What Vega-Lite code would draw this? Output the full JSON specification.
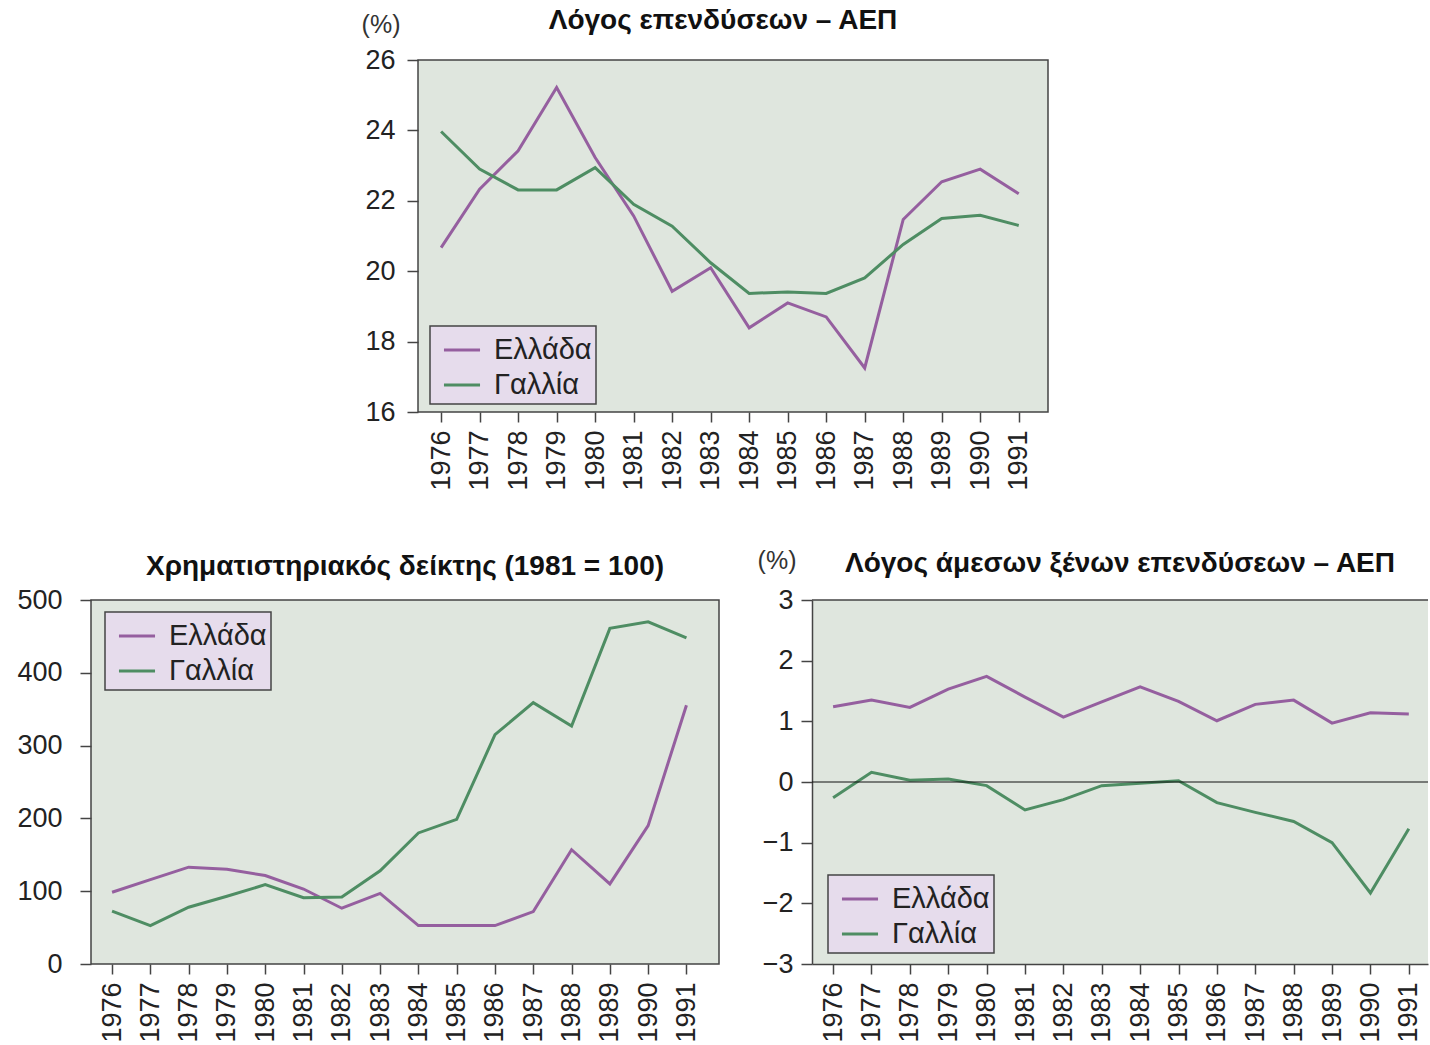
{
  "$schema": "https://vega.github.io/schema/vega-lite/v6.json",
  "background": "white",
  "padding": {"left": 16, "top": 6, "right": 0, "bottom": 0},
  "datasets": {
    "invest": [
      {"year": 1976, "country": "Ελλάδα", "value": 20.67}, {"year": 1977, "country": "Ελλάδα", "value": 22.33},
      {"year": 1978, "country": "Ελλάδα", "value": 23.42}, {"year": 1979, "country": "Ελλάδα", "value": 25.22},
      {"year": 1980, "country": "Ελλάδα", "value": 23.23}, {"year": 1981, "country": "Ελλάδα", "value": 21.57},
      {"year": 1982, "country": "Ελλάδα", "value": 19.43}, {"year": 1983, "country": "Ελλάδα", "value": 20.1},
      {"year": 1984, "country": "Ελλάδα", "value": 18.39}, {"year": 1985, "country": "Ελλάδα", "value": 19.1},
      {"year": 1986, "country": "Ελλάδα", "value": 18.7}, {"year": 1987, "country": "Ελλάδα", "value": 17.25},
      {"year": 1988, "country": "Ελλάδα", "value": 21.47}, {"year": 1989, "country": "Ελλάδα", "value": 22.54},
      {"year": 1990, "country": "Ελλάδα", "value": 22.9}, {"year": 1991, "country": "Ελλάδα", "value": 22.2},
      {"year": 1976, "country": "Γαλλία", "value": 23.97}, {"year": 1977, "country": "Γαλλία", "value": 22.9},
      {"year": 1978, "country": "Γαλλία", "value": 22.31}, {"year": 1979, "country": "Γαλλία", "value": 22.31},
      {"year": 1980, "country": "Γαλλία", "value": 22.94}, {"year": 1981, "country": "Γαλλία", "value": 21.9},
      {"year": 1982, "country": "Γαλλία", "value": 21.28}, {"year": 1983, "country": "Γαλλία", "value": 20.24},
      {"year": 1984, "country": "Γαλλία", "value": 19.37}, {"year": 1985, "country": "Γαλλία", "value": 19.41},
      {"year": 1986, "country": "Γαλλία", "value": 19.37}, {"year": 1987, "country": "Γαλλία", "value": 19.81},
      {"year": 1988, "country": "Γαλλία", "value": 20.76}, {"year": 1989, "country": "Γαλλία", "value": 21.5},
      {"year": 1990, "country": "Γαλλία", "value": 21.59}, {"year": 1991, "country": "Γαλλία", "value": 21.3}
    ],
    "stock": [
      {"year": 1976, "country": "Ελλάδα", "value": 98.6}, {"year": 1977, "country": "Ελλάδα", "value": 116},
      {"year": 1978, "country": "Ελλάδα", "value": 133}, {"year": 1979, "country": "Ελλάδα", "value": 130},
      {"year": 1980, "country": "Ελλάδα", "value": 121.6}, {"year": 1981, "country": "Ελλάδα", "value": 103},
      {"year": 1982, "country": "Ελλάδα", "value": 76.6}, {"year": 1983, "country": "Ελλάδα", "value": 97},
      {"year": 1984, "country": "Ελλάδα", "value": 52.8}, {"year": 1985, "country": "Ελλάδα", "value": 52.8},
      {"year": 1986, "country": "Ελλάδα", "value": 52.8}, {"year": 1987, "country": "Ελλάδα", "value": 72},
      {"year": 1988, "country": "Ελλάδα", "value": 157}, {"year": 1989, "country": "Ελλάδα", "value": 110},
      {"year": 1990, "country": "Ελλάδα", "value": 190}, {"year": 1991, "country": "Ελλάδα", "value": 355.5},
      {"year": 1976, "country": "Γαλλία", "value": 72.5}, {"year": 1977, "country": "Γαλλία", "value": 52.8},
      {"year": 1978, "country": "Γαλλία", "value": 78}, {"year": 1979, "country": "Γαλλία", "value": 93},
      {"year": 1980, "country": "Γαλλία", "value": 109}, {"year": 1981, "country": "Γαλλία", "value": 91},
      {"year": 1982, "country": "Γαλλία", "value": 92}, {"year": 1983, "country": "Γαλλία", "value": 128},
      {"year": 1984, "country": "Γαλλία", "value": 180}, {"year": 1985, "country": "Γαλλία", "value": 198.6},
      {"year": 1986, "country": "Γαλλία", "value": 315}, {"year": 1987, "country": "Γαλλία", "value": 359},
      {"year": 1988, "country": "Γαλλία", "value": 327}, {"year": 1989, "country": "Γαλλία", "value": 461},
      {"year": 1990, "country": "Γαλλία", "value": 470}, {"year": 1991, "country": "Γαλλία", "value": 448}
    ],
    "fdi": [
      {"year": 1976, "country": "Ελλάδα", "value": 1.24}, {"year": 1977, "country": "Ελλάδα", "value": 1.35},
      {"year": 1978, "country": "Ελλάδα", "value": 1.23}, {"year": 1979, "country": "Ελλάδα", "value": 1.53},
      {"year": 1980, "country": "Ελλάδα", "value": 1.74}, {"year": 1981, "country": "Ελλάδα", "value": 1.4},
      {"year": 1982, "country": "Ελλάδα", "value": 1.07}, {"year": 1983, "country": "Ελλάδα", "value": 1.32},
      {"year": 1984, "country": "Ελλάδα", "value": 1.57}, {"year": 1985, "country": "Ελλάδα", "value": 1.33},
      {"year": 1986, "country": "Ελλάδα", "value": 1.01}, {"year": 1987, "country": "Ελλάδα", "value": 1.28},
      {"year": 1988, "country": "Ελλάδα", "value": 1.35}, {"year": 1989, "country": "Ελλάδα", "value": 0.97},
      {"year": 1990, "country": "Ελλάδα", "value": 1.14}, {"year": 1991, "country": "Ελλάδα", "value": 1.12},
      {"year": 1976, "country": "Γαλλία", "value": -0.26}, {"year": 1977, "country": "Γαλλία", "value": 0.16},
      {"year": 1978, "country": "Γαλλία", "value": 0.03}, {"year": 1979, "country": "Γαλλία", "value": 0.05},
      {"year": 1980, "country": "Γαλλία", "value": -0.06}, {"year": 1981, "country": "Γαλλία", "value": -0.46},
      {"year": 1982, "country": "Γαλλία", "value": -0.29}, {"year": 1983, "country": "Γαλλία", "value": -0.06},
      {"year": 1984, "country": "Γαλλία", "value": -0.02}, {"year": 1985, "country": "Γαλλία", "value": 0.02},
      {"year": 1986, "country": "Γαλλία", "value": -0.34}, {"year": 1987, "country": "Γαλλία", "value": -0.5},
      {"year": 1988, "country": "Γαλλία", "value": -0.65}, {"year": 1989, "country": "Γαλλία", "value": -1.0},
      {"year": 1990, "country": "Γαλλία", "value": -1.83}, {"year": 1991, "country": "Γαλλία", "value": -0.77}
    ]
  },
  "config": {
    "font": "Liberation Sans",
    "view": {"fill": "#dfe6de", "stroke": "#444444", "strokeWidth": 1.5},
    "axis": {
      "domain": false, "grid": false, "ticks": true,
      "tickColor": "#444444", "tickWidth": 1.5, "tickSize": 11,
      "labelColor": "#222222", "labelFont": "Liberation Sans", "labelFontSize": 27,
      "titleFont": "Liberation Sans", "titleFontSize": 25, "titleFontWeight": "normal", "titleColor": "#333333"
    },
    "axisX": {"labelAngle": -90, "labelPadding": 8, "tickSize": 10, "labelFontSize": 27},
    "title": {"font": "Liberation Sans", "fontSize": 28, "fontWeight": "bold", "color": "#111111"},
    "legend": {
      "orient": "none", "title": null,
      "fillColor": "#e6dcec", "strokeColor": "#444444", "strokeWidth": 1.5,
      "padding": 4, "symbolType": "stroke", "symbolSize": 1300, "symbolStrokeWidth": 3,
      "symbolOffset": 8, "labelFontSize": 29, "labelColor": "#222222", "labelOffset": 12,
      "rowPadding": -2, "labelFont": "Liberation Sans"
    }
  },
  "resolve": {"scale": {"color": "independent"}},
  "bounds": "flush",
  "spacing": 540,
  "vconcat": [
    {
      "bounds": "flush",
      "spacing": 10,
      "resolve": {"scale": {"color": "independent"}},
      "hconcat": [
        {
          "width": 317, "height": 352,
          "view": {"stroke": null, "fill": null},
          "data": {"values": []},
          "mark": "point",
          "encoding": {}
        },
        {
          "width": 630, "height": 352,
          "data": {"name": "invest"},
          "title": {"text": "Λόγος επενδύσεων –  ΑΕΠ", "dx": -10, "offset": -18, "dy": 27, "baseline": "alphabetic"},
          "mark": {"type": "line", "strokeWidth": 3},
          "encoding": {
            "x": {"field": "year", "type": "quantitative",
                  "scale": {"domain": [1975.4, 1991.76], "nice": false, "zero": false},
                  "axis": {"values": [1976,1977,1978,1979,1980,1981,1982,1983,1984,1985,1986,1987,1988,1989,1990,1991], "format": "d", "title": null}},
            "y": {"field": "value", "type": "quantitative",
                  "scale": {"domain": [16, 26], "nice": false, "zero": false},
                  "axis": {"values": [16,18,20,22,24,26], "format": "d", "labelPadding": 12, "title": "(%)", "titleAngle": 0, "titleAlign": "right", "titleBaseline": "middle", "titleX": -18, "titleY": -36}},
            "color": {"field": "country", "type": "nominal",
                      "scale": {"domain": ["Ελλάδα", "Γαλλία"], "range": ["#955f9f", "#4e8d63"]},
                      "legend": {"legendX": 12, "legendY": 266}}
          }
        }
      ]
    },
    {
      "bounds": "flush",
      "spacing": 93,
      "resolve": {"scale": {"color": "independent"}},
      "hconcat": [
        {
          "width": 628, "height": 364,
          "data": {"name": "stock"},
          "title": {"text": "Χρηματιστηριακός δείκτης (1981 = 100)", "offset": 6, "dy": 23, "baseline": "alphabetic"},
          "mark": {"type": "line", "strokeWidth": 3},
          "encoding": {
            "x": {"field": "year", "type": "quantitative",
                  "scale": {"domain": [1975.45, 1991.85], "nice": false, "zero": false},
                  "axis": {"values": [1976,1977,1978,1979,1980,1981,1982,1983,1984,1985,1986,1987,1988,1989,1990,1991], "format": "d", "title": null}},
            "y": {"field": "value", "type": "quantitative",
                  "scale": {"domain": [0, 500], "nice": false},
                  "axis": {"values": [0,100,200,300,400,500], "format": "d", "labelPadding": 18, "title": null}},
            "color": {"field": "country", "type": "nominal",
                      "scale": {"domain": ["Ελλάδα", "Γαλλία"], "range": ["#955f9f", "#4e8d63"]},
                      "legend": {"legendX": 14, "legendY": 12}}
          }
        },
        {
          "width": 616, "height": 364,
          "view": {"stroke": null, "fill": "#dfe6de"},
          "title": {"text": "Λόγος άμεσων ξένων επενδύσεων – ΑΕΠ", "offset": -18, "dy": 34, "baseline": "alphabetic"},
          "layer": [
            {
              "data": {"name": "fdi"},
              "mark": {"type": "line", "strokeWidth": 3},
              "encoding": {
                "x": {"field": "year", "type": "quantitative",
                      "scale": {"domain": [1975.45, 1991.5], "nice": false, "zero": false},
                      "axis": {"values": [1976,1977,1978,1979,1980,1981,1982,1983,1984,1985,1986,1987,1988,1989,1990,1991], "format": "d", "title": null, "domain": true, "domainColor": "#444444", "domainWidth": 1.5}},
                "y": {"field": "value", "type": "quantitative",
                      "scale": {"domain": [-3, 3], "nice": false, "zero": false},
                      "axis": {"values": [-3,-2,-1,0,1,2,3], "format": "d", "labelPadding": 8, "domain": true, "domainColor": "#444444", "domainWidth": 1.5, "title": "(%)", "titleAngle": 0, "titleAlign": "right", "titleBaseline": "middle", "titleX": -16, "titleY": -40}},
                "color": {"field": "country", "type": "nominal",
                          "scale": {"domain": ["Ελλάδα", "Γαλλία"], "range": ["#955f9f", "#4e8d63"]},
                          "legend": {"legendX": 16, "legendY": 275}}
              }
            },
            {
              "data": {"values": [{}]},
              "mark": {"type": "rule", "color": "#444444", "strokeWidth": 1.5},
              "encoding": {"y": {"datum": 3}}
            },
            {
              "data": {"values": [{}]},
              "mark": {"type": "rule", "color": "#111111", "strokeWidth": 1.2},
              "encoding": {"y": {"datum": 0}}
            }
          ]
        }
      ]
    }
  ]
}
